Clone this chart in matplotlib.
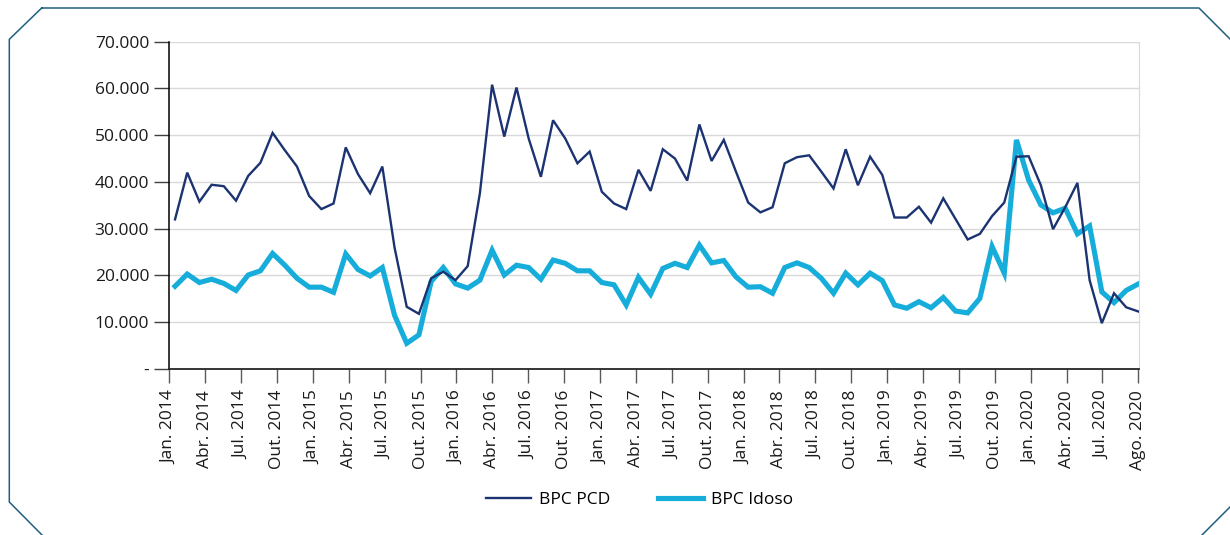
import numpy as np
import matplotlib
matplotlib.use("Agg")
import matplotlib.pyplot as plt
from matplotlib.lines import Line2D
from matplotlib.ticker import FuncFormatter

plt.rcParams["font.family"] = ["Open Sans", "DejaVu Sans"]

# --- monthly series, Jan. 2014 .. Ago. 2020 ---
bpc_pcd = [32000, 42000, 35800, 39400, 39100, 36000, 41300, 44100, 50500, 46800,
           43300, 37000, 34200, 35400, 47400, 41700, 37600, 43300, 26000, 13300,
           11800, 19400, 20800, 19000, 22000, 37600, 60800, 49700, 60200, 49300,
           41100, 53200, 49300, 44000, 46500, 37900, 35400, 34200, 42600, 38100,
           47000, 45000, 40300, 52300, 44500, 49000, 42200, 35600, 33500, 34600,
           44000, 45300, 45700, 42200, 38600, 47000, 39300, 45400, 41500, 32400,
           32400, 34700, 31300, 36500, 32100, 27700, 28900, 32700, 35600, 45400,
           45500, 39300, 29900, 34600, 39800, 19000, 9800, 16200, 13200, 12300]
bpc_idoso = [17700, 20300, 18500, 19200, 18300, 16800, 20100, 21000, 24700, 22200,
             19400, 17500, 17500, 16400, 24600, 21300, 19900, 21700, 11500, 5500,
             7300, 18700, 21700, 18200, 17300, 19000, 25400, 20100, 22200, 21700,
             19200, 23300, 22600, 21000, 21000, 18500, 18000, 13700, 19600, 16000,
             21500, 22600, 21700, 26500, 22700, 23200, 19700, 17500, 17600, 16200,
             21700, 22700, 21700, 19400, 16200, 20500, 18000, 20500, 18900, 13700,
             13000, 14400, 13100, 15300, 12400, 12000, 15100, 26200, 20500, 49000,
             40400, 35100, 33400, 34400, 28900, 30600, 16500, 14200, 16800, 18200]
quarter_names = ["Jan.", "Abr.", "Jul.", "Out."]
years = list(range(2014, 2021))
tick_labels = [f"{m} {y}" for y in years for m in quarter_names][:27] + ["Ago. 2020"]

DARK = "#1b3370"
LIGHT = "#16addb"
W, H = 1230, 535

fig = plt.figure(figsize=(W / 100, H / 100), dpi=100)
ax = fig.add_axes([169.3 / W, 1 - 369 / H, (1139 - 169.3) / W, (369 - 41.7) / H])

x = np.arange(len(bpc_pcd))
ax.plot(x, bpc_pcd, color=DARK, lw=1.7, solid_joinstyle="miter", zorder=3)
ax.plot(x, bpc_idoso, color=LIGHT, lw=3.7, solid_joinstyle="miter", zorder=2)

x0, x1 = -0.47, 79.05
ax.set_xlim(x0, x1)
ax.set_ylim(0, 70000)
ax.set_yticks(np.arange(0, 70001, 10000))
ax.yaxis.set_major_formatter(FuncFormatter(
    lambda v, p: "-" if v == 0 else f"{v:,.0f}".replace(",", ".")))
ax.set_xticks(np.linspace(x0, 79.0, len(tick_labels)))
ax.set_xticklabels(tick_labels, rotation=90)

ax.grid(axis="y", color="#d9d9d9", lw=1.0)
ax.set_axisbelow(True)
ax.spines["top"].set_visible(False)
ax.spines["right"].set_color("#d9d9d9")
ax.spines["left"].set_color("black")
ax.spines["bottom"].set_color("#262626")
ax.spines["left"].set_linewidth(1.1)
ax.spines["bottom"].set_linewidth(1.3)
ax.tick_params(axis="y", length=10.5, width=1.0, color="#404040", pad=4,
               labelsize=12.5, labelcolor="#1a1a1a")
ax.tick_params(axis="x", length=10, width=1.0, color="#595959", pad=5,
               labelsize=12.5, labelcolor="#1a1a1a")

handles = [Line2D([], [], color=DARK, lw=1.7, label="BPC PCD"),
           Line2D([], [], color=LIGHT, lw=3.7, label="BPC Idoso")]
fig.legend(handles=handles, loc="center", bbox_to_anchor=(0.52, 1 - 500 / H),
           ncol=2, frameon=False, fontsize=12.5, handlelength=2.6,
           handletextpad=0.5, columnspacing=2.7)

# octagonal frame around the figure
fx = np.array([41.7, 1199, 1232, 1232, 1200, 44, 9.3, 9.3, 41.7])
fy = np.array([8, 8, 41, 505, 537, 537, 502, 39.3, 8])
fig.add_artist(Line2D(fx / W, 1 - fy / H, transform=fig.transFigure,
                      color="#1f5f80", lw=1.1))

fig.savefig("out.png", dpi=100)
